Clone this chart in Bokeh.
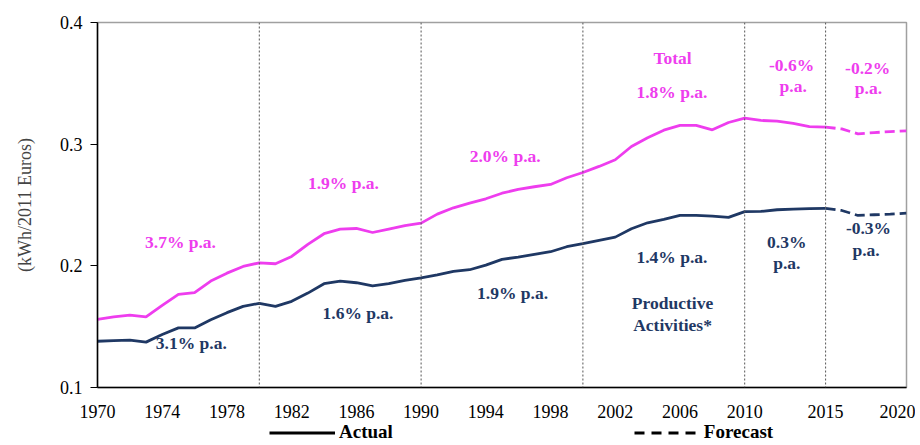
from bokeh.plotting import figure
from bokeh.layouts import column
from bokeh.models import (Span, Label, Legend, LegendItem, FixedTicker, Range1d)
from bokeh.embed import file_html
from bokeh.resources import INLINE

# ---------------- data ----------------
years_actual = list(range(1970, 2016))
total_actual = [0.156, 0.158, 0.1595, 0.158, 0.1675, 0.1765, 0.178, 0.1875, 0.194, 0.1995,
                0.2025, 0.2017, 0.2077, 0.2176, 0.2264, 0.2302, 0.2307, 0.2274, 0.2302, 0.233,
                0.2351, 0.2425, 0.2477, 0.2515, 0.2551, 0.2597, 0.2628, 0.265, 0.2669, 0.2724,
                0.2767, 0.2817, 0.2872, 0.2981, 0.3052, 0.3115, 0.3154, 0.3154, 0.3118, 0.3178,
                0.3214, 0.3195, 0.319, 0.317, 0.3145, 0.314]
prod_actual = [0.138, 0.1385, 0.139, 0.1373, 0.1435, 0.149, 0.149, 0.1557, 0.1615, 0.1667,
               0.1692, 0.1667, 0.1708, 0.1776, 0.1853, 0.1874, 0.1861, 0.1836, 0.1853, 0.188,
               0.1902, 0.1925, 0.1954, 0.1968, 0.2006, 0.2053, 0.2072, 0.2094, 0.2116, 0.2157,
               0.2183, 0.221, 0.2236, 0.2305, 0.2354, 0.2381, 0.2414, 0.2414, 0.2409, 0.2398,
               0.2445, 0.2447, 0.2461, 0.2466, 0.247, 0.2472]
years_forecast = [2015, 2016, 2017, 2018, 2019, 2020]
total_forecast = [0.314, 0.3125, 0.3085, 0.3095, 0.3103, 0.311]
prod_forecast = [0.2472, 0.2455, 0.2414, 0.242, 0.2425, 0.2433]

x_ticks = [1970, 1974, 1978, 1982, 1986, 1990, 1994, 1998, 2002, 2006, 2010, 2015, 2020]
y_ticks = [0.1, 0.2, 0.3, 0.4]
period_breaks = [1980, 1990, 2000, 2010, 2015]

# growth-rate annotations: (text, x, y, series)
notes = [
    ("3.7% p.a.", 1975.13, 0.2200, "total"),
    ("3.1% p.a.", 1975.8, 0.1362, "prod"),
    ("1.9% p.a.", 1985.2, 0.2677, "total"),
    ("1.6% p.a.", 1986.1, 0.1609, "prod"),
    ("2.0% p.a.", 1995.2, 0.2900, "total"),
    ("1.9% p.a.", 1995.65, 0.1773, "prod"),
    ("Total", 2005.54, 0.3712, "total"),
    ("1.8% p.a.", 2005.5, 0.3425, "total"),
    ("1.4% p.a.", 2005.5, 0.2069, "prod"),
    ("Productive", 2005.54, 0.1691, "prod"),
    ("Activities*", 2005.54, 0.1510, "prod"),
    ("-0.6%", 2012.9, 0.3647, "total"),
    ("p.a.", 2013.0, 0.3482, "total"),
    ("-0.2%", 2017.6, 0.3622, "total"),
    ("p.a.", 2017.65, 0.3458, "total"),
    ("0.3%", 2012.6, 0.2192, "prod"),
    ("p.a.", 2012.6, 0.2020, "prod"),
    ("-0.3%", 2017.65, 0.2307, "prod"),
    ("p.a.", 2017.5, 0.2127, "prod"),
]

PINK = "#EE3DEE"
NAVY = "#1F3864"
FONT = "Liberation Serif"

p = figure(width=915, height=421, output_backend="svg", toolbar_location=None,
           x_range=Range1d(1970, 2020), y_range=Range1d(0.1, 0.4),
           min_border_left=97, min_border_right=9, min_border_top=22, min_border_bottom=34)
p.background_fill_color = "white"
p.border_fill_color = "white"
p.outline_line_color = "#A0A0A0"
p.outline_line_width = 1.5
p.grid.visible = False

# axes
p.xaxis.ticker = FixedTicker(ticks=x_ticks)
p.yaxis.ticker = FixedTicker(ticks=y_ticks)
p.yaxis.major_label_overrides = {t: f"{t:.1f}" for t in y_ticks}
for ax in (p.xaxis[0], p.yaxis[0]):
    ax.axis_line_color = "black"
    ax.axis_line_width = 1.5
    ax.major_label_text_font = FONT
    ax.major_label_text_font_size = "18px"
    ax.major_label_text_color = "black"
    ax.minor_tick_line_color = None
p.xaxis.major_tick_line_color = None
p.xaxis.major_label_standoff = 11
p.yaxis.major_tick_line_color = "black"
p.yaxis.major_tick_in = 0
p.yaxis.major_tick_out = 7
p.yaxis.major_label_standoff = 8
p.yaxis.axis_label = "(kWh/2011 Euros)"
p.yaxis.axis_label_text_font = FONT
p.yaxis.axis_label_text_font_style = "normal"
p.yaxis.axis_label_text_font_size = "18px"
p.yaxis.axis_label_standoff = 22

# period separators
for yr in period_breaks:
    p.add_layout(Span(location=yr, dimension="height", line_color="#555555",
                      line_width=1, line_dash="2 2"))

# series
p.line(years_actual, total_actual, line_color=PINK, line_width=2.8)
p.line(years_forecast, total_forecast, line_color=PINK, line_width=2.8, line_dash="10 5")
p.line(years_actual, prod_actual, line_color=NAVY, line_width=2.8)
p.line(years_forecast, prod_forecast, line_color=NAVY, line_width=2.8, line_dash="10 5")

# annotations
for txt, x, y, s in notes:
    p.add_layout(Label(x=x, y=y, text=txt, text_align="center", text_baseline="middle",
                       text_font=FONT, text_font_style="bold", text_font_size="17.5px",
                       text_color=PINK if s == "total" else NAVY))

# legend strip (line styles) under the chart
NAN = [float("nan")]
leg = figure(width=915, height=24, output_backend="svg", toolbar_location=None,
             x_range=Range1d(0, 1), y_range=Range1d(0, 1),
             min_border_left=0, min_border_right=0, min_border_top=0, min_border_bottom=0)
leg.axis.visible = False
leg.grid.visible = False
leg.outline_line_color = None
r_act = leg.line(NAN, NAN, line_color="black", line_width=2.8)
r_fc = leg.line(NAN, NAN, line_color="black", line_width=2.8, line_dash="10 7")
lg = Legend(items=[LegendItem(label="Actual", renderers=[r_act]),
                   LegendItem(label="Forecast", renderers=[r_fc])],
            orientation="horizontal", location=(172, 2),
            glyph_width=66, glyph_height=19, label_standoff=4, spacing=241,
            label_text_font=FONT, label_text_font_style="bold",
            label_text_font_size="19px", label_text_color="black",
            label_height=19, label_text_baseline="middle",
            border_line_color=None, background_fill_alpha=0,
            padding=0, margin=0)
leg.add_layout(lg, "center")

layout = column(p, leg, spacing=0)
open("out.html", "w").write(file_html(layout, INLINE))
